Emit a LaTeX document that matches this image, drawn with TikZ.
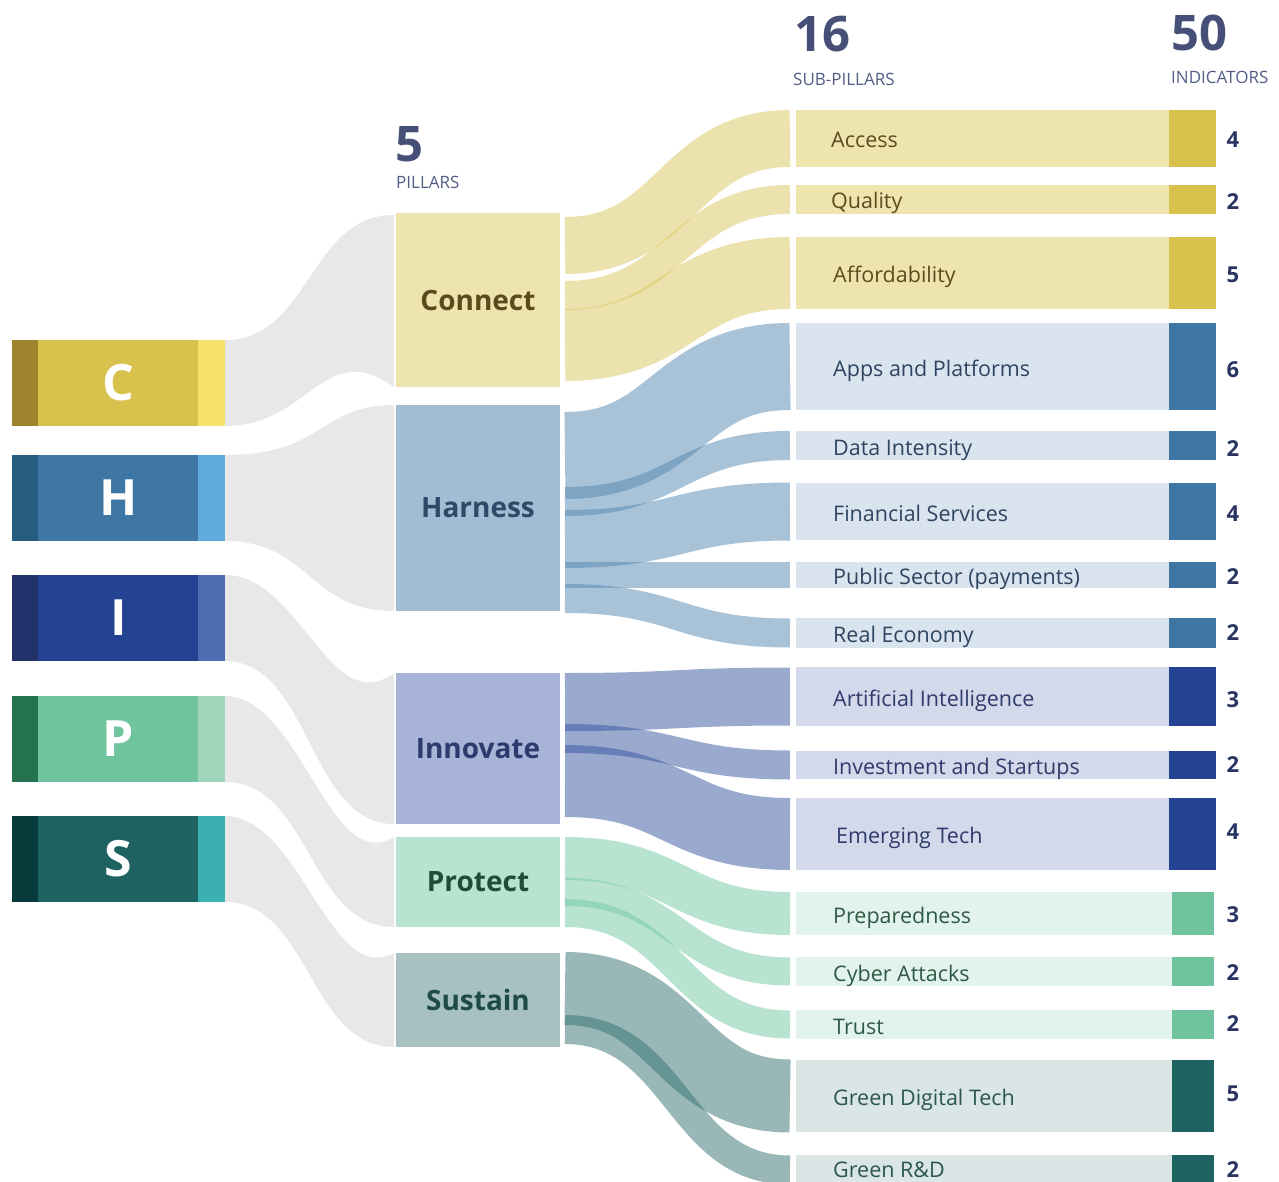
\documentclass[tikz,border=0pt]{standalone}
\usepackage{fontspec}
\setmainfont{Open Sans}
\usetikzlibrary{calc}
% left block colours
\definecolor{cCd}{HTML}{9E852D}\definecolor{cCm}{HTML}{D8C14D}\definecolor{cCl}{HTML}{F8E06C}
\definecolor{cHd}{HTML}{265C80}\definecolor{cHm}{HTML}{3F77A4}\definecolor{cHl}{HTML}{62ABDD}
\definecolor{cId}{HTML}{24326B}\definecolor{cIm}{HTML}{234392}\definecolor{cIl}{HTML}{4D6DB3}
\definecolor{cPd}{HTML}{25724E}\definecolor{cPm}{HTML}{6FC49E}\definecolor{cPl}{HTML}{A0D5BB}
\definecolor{cSd}{HTML}{073A3A}\definecolor{cSm}{HTML}{1F6262}\definecolor{cSl}{HTML}{3AB1B0}
% pillar fills / texts
\definecolor{pilC}{HTML}{EEE4AE}\definecolor{pilH}{HTML}{A0BDD3}\definecolor{pilI}{HTML}{A7B3D7}
\definecolor{pilP}{HTML}{B7E3D0}\definecolor{pilS}{HTML}{A7C1C1}
\definecolor{txC}{HTML}{5B4A1C}\definecolor{txH}{HTML}{2D4A69}\definecolor{txI}{HTML}{2D3A6E}
\definecolor{txP}{HTML}{1F4D3B}\definecolor{txS}{HTML}{1F4A4A}
% sub-pillar bars
\definecolor{barC}{HTML}{EEE4AE}\definecolor{barH}{HTML}{DAE4EE}\definecolor{barI}{HTML}{D3D8EA}
\definecolor{barP}{HTML}{E2F2EC}\definecolor{barS}{HTML}{DAE5E5}
\definecolor{lbC}{HTML}{5C4B1F}\definecolor{lbH}{HTML}{2E4460}\definecolor{lbI}{HTML}{2F3B6B}
\definecolor{lbP}{HTML}{2E5A45}\definecolor{lbS}{HTML}{2A5553}
% ribbons (drawn at half opacity)
\definecolor{ribC}{HTML}{DBC75D}\definecolor{ribH}{HTML}{5387B1}\definecolor{ribI}{HTML}{37559F}
\definecolor{ribP}{HTML}{73C9A5}\definecolor{ribS}{HTML}{357171}
\definecolor{gry}{HTML}{E8E8E8}
\definecolor{numc}{HTML}{2A3462}
\definecolor{hdnum}{HTML}{454F77}\definecolor{hdword}{HTML}{535E85}
\newcommand{\ribbon}[5]{% colour, width, source node, source offset, target node
  \draw[rib, #1, line width=#2pt] ($(#3.north east)+(5,#4)$) .. controls +(112.5,0) and +(-112.5,0) .. ($(#5.west)+(-6,0)$);}
\begin{document}
\begin{tikzpicture}[x=1pt,y=-1pt,
  box/.style={inner sep=0pt, outer sep=0pt, anchor=north west, draw=none},
  blk/.style={box, text=white, font=\fontsize{50}{50}\bfseries, minimum width=213pt, minimum height=86pt},
  pil/.style={box, font=\fontsize{28}{28}\bfseries, minimum width=164pt},
  barCHI/.style={box, minimum width=420pt},
  barPS/.style={box, minimum width=418pt},
  lab/.style={anchor=base west, inner sep=0pt, font=\fontsize{21.5}{21.5}\selectfont},
  num/.style={inner sep=0pt, font=\fontsize{22}{22}\bfseries, text=numc},
  glink/.style={fill=gry},
  rib/.style={draw opacity=0.5, line cap=butt},
  hnum/.style={anchor=base west, inner sep=0pt, font=\fontsize{49}{49}\bfseries, text=hdnum},
  hword/.style={anchor=base west, inner sep=0pt, font=\fontsize{17}{17}\selectfont, text=hdword}
]
\fill[white] (0,0) rectangle (1279,1182);
\useasboundingbox (0,0) rectangle (1279,1182);

% ---------------- left letter blocks
\node[blk, fill=cCm] (blkC) at (12,340) {C};
\node[blk, fill=cHm] (blkH) at (12,455) {H};
\node[blk, fill=cIm] (blkI) at (12,575) {I};
\node[blk, fill=cPm] (blkP) at (12,696) {P};
\node[blk, fill=cSm] (blkS) at (12,816) {S};
\foreach \b/\d/\l in {blkC/cCd/cCl, blkH/cHd/cHl, blkI/cId/cIl, blkP/cPd/cPl, blkS/cSd/cSl}{
  \fill[\d] (\b.north west) rectangle ($(\b.south west)+(26,0)$);
  \fill[\l] ($(\b.north east)+(-27,0)$) rectangle (\b.south east);
}

% ---------------- pillars
\node[pil, fill=pilC, text=txC, minimum height=174pt] (connect) at (396,213) {Connect};
\node[pil, fill=pilH, text=txH, minimum height=206pt] (harness) at (396,405) {Harness};
\node[pil, fill=pilI, text=txI, minimum height=151pt] (innovate) at (396,673) {Innovate};
\node[pil, fill=pilP, text=txP, minimum height=90pt] (protect) at (396,837) {Protect};
\node[pil, fill=pilS, text=txS, minimum height=94pt] (sustain) at (396,953) {Sustain};

% ---------------- grey links
\fill[glink] (blkC.north east) .. controls +(85,0) and +(-85,0) .. ($(connect.north west)+(-2,2)$)
  -- ($(connect.south west)+(-2,0)$) .. controls +(-70,-50) and +(85,0) .. (blkC.south east) -- cycle;
\fill[glink] (blkH.north east) .. controls +(100,0) and +(-75,0) .. ($(harness.north west)+(-2,0)$)
  -- ($(harness.south west)+(-2,0)$) .. controls +(-85,0) and +(85,0) .. (blkH.south east) -- cycle;
\fill[glink] (blkI.north east) .. controls +(75,0) and +(-64,47) .. ($(innovate.north west)+(-2,0)$)
  -- ($(innovate.south west)+(-2,0)$) .. controls +(-85,0) and +(85,0) .. (blkI.south east) -- cycle;
\fill[glink] (blkP.north east) .. controls +(75,0) and +(-64,40) .. ($(protect.north west)+(-2,0)$)
  -- ($(protect.south west)+(-2,0)$) .. controls +(-85,0) and +(85,0) .. (blkP.south east) -- cycle;
\fill[glink] (blkS.north east) .. controls +(75,0) and +(-64,35) .. ($(sustain.north west)+(-2,0)$)
  -- ($(sustain.south west)+(-2,0)$) .. controls +(-85,0) and +(85,0) .. (blkS.south east) -- cycle;

% ---------------- sub-pillar bars: Connect
\node[barCHI, fill=barC, minimum height=57pt] (access) at (796,110) {};
\node[barCHI, fill=barC, minimum height=29pt] (quality) at (796,185) {};
\node[barCHI, fill=barC, minimum height=72pt] (afford) at (796,237) {};
% Harness
\node[barCHI, fill=barH, minimum height=87pt] (apps) at (796,323) {};
\node[barCHI, fill=barH, minimum height=29pt] (data) at (796,431) {};
\node[barCHI, fill=barH, minimum height=57pt] (finance) at (796,483) {};
\node[barCHI, fill=barH, minimum height=26pt] (public) at (796,562) {};
\node[barCHI, fill=barH, minimum height=30pt] (real) at (796,618) {};
% Innovate
\node[barCHI, fill=barI, minimum height=59pt] (ai) at (796,667) {};
\node[barCHI, fill=barI, minimum height=28pt] (invest) at (796,751) {};
\node[barCHI, fill=barI, minimum height=72pt] (emerging) at (796,798) {};
% Protect
\node[barPS, fill=barP, minimum height=43pt] (prep) at (796,892) {};
\node[barPS, fill=barP, minimum height=29pt] (cyber) at (796,957) {};
\node[barPS, fill=barP, minimum height=29pt] (trust) at (796,1010) {};
% Sustain
\node[barPS, fill=barS, minimum height=72pt] (gdt) at (796,1060) {};
\node[barPS, fill=barS, minimum height=30pt] (grd) at (796,1155) {};

% dark indicator blocks
\foreach \n in {access,quality,afford}{\fill[cCm] ($(\n.north east)+(-47,0)$) rectangle (\n.south east);}
\foreach \n in {apps,data,finance,public,real}{\fill[cHm] ($(\n.north east)+(-47,0)$) rectangle (\n.south east);}
\foreach \n in {ai,invest,emerging}{\fill[cIm] ($(\n.north east)+(-47,0)$) rectangle (\n.south east);}
\foreach \n in {prep,cyber,trust}{\fill[cPm] ($(\n.north east)+(-42,0)$) rectangle (\n.south east);}
\foreach \n in {gdt,grd}{\fill[cSm] ($(\n.north east)+(-42,0)$) rectangle (\n.south east);}

% labels
\node[lab, text=lbC] (accessL) at ($(access.west)+(35,9.5)$) {Access};
\node[lab, text=lbC] (qualityL) at ($(quality.west)+(35,9.5)$) {Quality};
\node[lab, text=lbC] (affordL) at ($(afford.west)+(37,9.5)$) {Affordability};
\node[lab, text=lbH] (appsL) at ($(apps.west)+(37,9.5)$) {Apps and Platforms};
\node[lab, text=lbH] (dataL) at ($(data.west)+(37,9.5)$) {Data Intensity};
\node[lab, text=lbH] (financeL) at ($(finance.west)+(37,9.5)$) {Financial Services};
\node[lab, text=lbH] (publicL) at ($(public.west)+(37,9.5)$) {Public Sector (payments)};
\node[lab, text=lbH] (realL) at ($(real.west)+(37,9.5)$) {Real Economy};
\node[lab, text=lbI] (aiL) at ($(ai.west)+(37,9.5)$) {Artificial Intelligence};
\node[lab, text=lbI] (investL) at ($(invest.west)+(37,9.5)$) {Investment and Startups};
\node[lab, text=lbI] (emergingL) at ($(emerging.west)+(40,9.5)$) {Emerging Tech};
\node[lab, text=lbP] (prepL) at ($(prep.west)+(37,9.5)$) {Preparedness};
\node[lab, text=lbP] (cyberL) at ($(cyber.west)+(37,9.5)$) {Cyber Attacks};
\node[lab, text=lbP] (trustL) at ($(trust.west)+(37,9.5)$) {Trust};
\node[lab, text=lbS] (gdtL) at ($(gdt.west)+(37,9.5)$) {Green Digital Tech};
\node[lab, text=lbS] (grdL) at ($(grd.west)+(37,7.5)$) {Green R\&D};

% indicator counts
\node[num] (accessN) at ($(access.east)+(17,1)$) {4};
\node[num] (qualityN) at ($(quality.east)+(17,2)$) {2};
\node[num] (affordN) at ($(afford.east)+(17,2)$) {5};
\node[num] (appsN) at ($(apps.east)+(17,3)$) {6};
\node[num] (dataN) at ($(data.east)+(17,3)$) {2};
\node[num] (financeN) at ($(finance.east)+(17,2)$) {4};
\node[num] (publicN) at ($(public.east)+(17,2)$) {2};
\node[num] (realN) at ($(real.east)+(17,0)$) {2};
\node[num] (aiN) at ($(ai.east)+(17,3)$) {3};
\node[num] (investN) at ($(invest.east)+(17,0)$) {2};
\node[num] (emergingN) at ($(emerging.east)+(17,-2)$) {4};
\node[num] (prepN) at ($(prep.east)+(19,1)$) {3};
\node[num] (cyberN) at ($(cyber.east)+(19,1)$) {2};
\node[num] (trustN) at ($(trust.east)+(19,-1)$) {2};
\node[num] (gdtN) at ($(gdt.east)+(19,-2)$) {5};
\node[num] (grdN) at ($(grd.east)+(19,0)$) {2};

% ---------------- coloured ribbons (pillar -> sub-pillar)
\ribbon{ribC}{57}{connect}{32.5}{access}
\ribbon{ribC}{29}{connect}{82.5}{quality}
\ribbon{ribC}{72}{connect}{132}{afford}
\ribbon{ribH}{87}{harness}{50.5}{apps}
\ribbon{ribH}{29}{harness}{96.5}{data}
\ribbon{ribH}{58}{harness}{134}{finance}
\ribbon{ribH}{26}{harness}{170}{public}
\ribbon{ribH}{29}{harness}{193.5}{real}
\ribbon{ribI}{58}{innovate}{29}{ai}
\ribbon{ribI}{29}{innovate}{65.5}{invest}
\ribbon{ribI}{72}{innovate}{108}{emerging}
\ribbon{ribP}{43}{protect}{21.5}{prep}
\ribbon{ribP}{28}{protect}{55}{cyber}
\ribbon{ribP}{28}{protect}{76}{trust}
\ribbon{ribS}{73}{sustain}{35.5}{gdt}
\ribbon{ribS}{29}{sustain}{76.5}{grd}

% ---------------- headers
\node[hnum] (h5) at (395,162) {5};
\node[hword] (h5w) at (396,189) {PILLARS};
\node[hnum] (h16) at (794,52) {16};
\node[hword] (h16w) at (793,86) {SUB-PILLARS};
\node[hnum] (h50) at (1171,51) {50};
\node[hword] (h50w) at (1171,84) {INDICATORS};
\end{tikzpicture}
\end{document}
